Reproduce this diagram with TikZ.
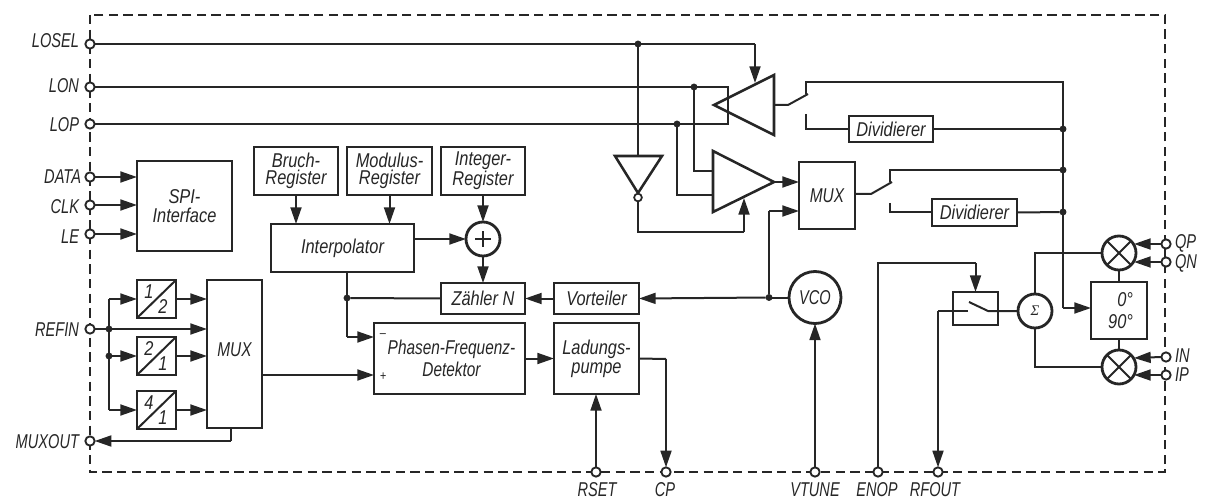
\documentclass[tikz,border=0pt]{standalone}
\usepackage{fontspec}
\setmainfont{Liberation Sans}[FakeStretch=0.82]
\newfontfamily\capf{Liberation Sans}[FakeStretch=0.73]
\newfontfamily\midf{Liberation Sans}[FakeStretch=0.77]
\newfontfamily\sigfont{Liberation Serif}
\usetikzlibrary{arrows.meta,calc}
\definecolor{ink}{HTML}{262626}
\tikzset{
  conn/.style={draw=ink,line width=1.5pt,line join=miter},
  arr/.style={conn,-{Triangle[length=12.5pt,width=8.2pt]}},
  boxnode/.style={draw=ink,line width=2.1pt,inner sep=0pt,outer sep=0pt,align=center,text=ink,
     font=\fontsize{15pt}{13.2pt}\selectfont\itshape},
  txt/.style={inner sep=0pt,outer sep=0pt,text=ink,align=center,font=\fontsize{15pt}{13.2pt}\selectfont\itshape},
  caplab/.style={txt,font=\capf\fontsize{15pt}{13.2pt}\selectfont\itshape},
  midlab/.style={txt,font=\midf\fontsize{15pt}{13.2pt}\selectfont\itshape},
  sml/.style={inner sep=0pt,outer sep=0pt,text=ink,font=\fontsize{10pt}{10pt}\selectfont\itshape},
  pinn/.style={circle,draw=ink,fill=white,line width=1.4pt,minimum size=7pt,inner sep=0pt,outer sep=0pt},
  dotn/.style={circle,fill=ink,minimum size=5.2pt,inner sep=0pt,outer sep=0pt},
  ringn/.style={circle,draw=ink,line width=2.1pt,inner sep=0pt,outer sep=0pt,text=ink,
     font=\fontsize{15pt}{13.2pt}\selectfont\itshape},
  shapeln/.style={draw=ink,line width=1.9pt,line join=miter},
  framen/.style={draw=ink,line width=2.2pt,dash pattern=on 7.1pt off 3.9pt}
}
\newcommand{\bx}[6]{\node[boxnode,minimum width={(#4-#2)*0.75pt},minimum height={(#5-#3)*0.75pt}] (#1) at ({(#2+#4)/2},{(#3+#5)/2}) {#6};}
\begin{document}
\begin{tikzpicture}[x=0.75pt,y=-0.75pt]
\useasboundingbox (0,0) rectangle (1210,499);
% frame
\draw[framen] (90,15) rectangle (1165,472);
% pins
\node[pinn] (pLOSEL) at (90,44) {};
\node[pinn] (pLON) at (90,87) {};
\node[pinn] (pLOP) at (90,124) {};
\node[pinn] (pDATA) at (90,177) {};
\node[pinn] (pCLK) at (90,205) {};
\node[pinn] (pLE) at (90,234) {};
\node[pinn] (pREFIN) at (90,329) {};
\node[pinn] (pMUXOUT) at (90,441) {};
\node[pinn] (pQP) at (1166,244) {};
\node[pinn] (pQN) at (1166,262) {};
\node[pinn] (pIN) at (1166,357) {};
\node[pinn] (pIP) at (1166,375) {};
\node[pinn] (pRSET) at (596,472) {};
\node[pinn] (pCP) at (666,472) {};
\node[pinn] (pVTUNE) at (815,472) {};
\node[pinn] (pENOP) at (878,472) {};
\node[pinn] (pRFOUT) at (938,472) {};
% pin labels
\node[caplab,anchor=east] (lLOSEL) at (79,41) {LOSEL};
\node[caplab,anchor=east] (lLON) at (79,86) {LON};
\node[caplab,anchor=east] (lLOP) at (79,125) {LOP};
\node[caplab,anchor=east] (lDATA) at (81,177) {DATA};
\node[caplab,anchor=east] (lCLK) at (79,207) {CLK};
\node[caplab,anchor=east] (lLE) at (79,237) {LE};
\node[caplab,anchor=east] (lREFIN) at (79,330) {REFIN};
\node[caplab,anchor=east] (lMUXOUT) at (79,442) {MUXOUT};
\node[caplab,anchor=west] (lQP) at (1175,243) {QP};
\node[caplab,anchor=west] (lQN) at (1175,263) {QN};
\node[caplab,anchor=west] (lIN) at (1175,356) {IN};
\node[caplab,anchor=west] (lIP) at (1175,375) {IP};
\node[caplab] (lRSET) at (597,489.5) {RSET};
\node[caplab] (lCP) at (665,489.5) {CP};
\node[caplab] (lVTUNE) at (815,489.5) {VTUNE};
\node[caplab] (lENOP) at (877,489.5) {ENOP};
\node[caplab] (lRFOUT) at (935,489.5) {RFOUT};
% boxes
\bx{spi}{137}{161}{232}{251}{SPI-\\[1.3pt]Interface}
\bx{bruch}{254}{147}{338}{195}{Bruch-\\Register}
\bx{modul}{347}{147}{432}{195}{Modulus-\\Register}
\bx{integ}{441}{147}{525}{195}{Integer-\\Register}
\bx{interp}{271}{224}{414}{272}{Interpolator}
\bx{zn}{441}{283}{525}{314}{Zähler N}
\bx{vort}{554}{283}{639}{314}{Vorteiler}
\bx{pfd}{374}{323}{525}{394}{\midf\itshape\hspace*{3pt}Phasen-Frequenz-\\[1.3pt]\midf\itshape\hspace*{3pt}Detektor}
\bx{lad}{554}{323}{639}{394}{Ladungs-\\[1.3pt]pumpe}
\bx{muxa}{207}{280}{262}{428}{}
\node[midlab] (tmuxa) at (234.5,350) {MUX};
\bx{muxb}{799}{162}{855}{229}{\midf\itshape MUX}
\bx{diva}{849}{116}{933}{142}{Dividierer}
\bx{divb}{932}{199}{1017}{226}{Dividierer}
\bx{dva}{137}{280}{176}{318}{}
\bx{dvb}{137}{337}{176}{375}{}
\bx{dvc}{137}{391}{176}{429}{}
\bx{sw}{953}{292}{998}{325}{}
\bx{phase}{1091}{282}{1147}{339}{}
\draw[conn] (dva.south west) -- (dva.north east);
\draw[conn] (dvb.south west) -- (dvb.north east);
\draw[conn] (dvc.south west) -- (dvc.north east);
\node[txt] (ta1) at (149,292) {1};
\node[txt] (ta2) at (163,307) {2};
\node[txt] (tb1) at (149,349) {2};
\node[txt] (tb2) at (163,364) {1};
\node[txt] (tc1) at (149,403) {4};
\node[txt] (tc2) at (163,418) {1};
\node[sml] (tminus) at (383,336) {\textendash};
\node[sml] (tplus) at (383,377) {+};
\node[txt,anchor=east] (tph0) at (1133,300) {0°};
\node[txt,anchor=east] (tph90) at (1133,322) {90°};
% rings
\node[ringn,minimum size=25.5pt] (plus) at (483,239) {};
\draw[conn] ($(plus)+(-8,0)$) -- ($(plus)+(8,0)$);
\draw[conn] ($(plus)+(0,-8)$) -- ($(plus)+(0,8)$);
\node[ringn,minimum size=39pt,font=\capf\fontsize{15pt}{13.2pt}\selectfont\itshape] (vco) at (815,297.5) {VCO};
\node[ringn,minimum size=25.5pt,font=\sigfont\fontsize{11pt}{11pt}\selectfont\itshape] (sig) at (1035,311) {Σ};
\node[ringn,minimum size=25.5pt] (mq) at (1119,253) {};
\node[ringn,minimum size=25.5pt] (mi) at (1119,367) {};
\draw[conn] (mq.45) -- (mq.225);
\draw[conn] (mq.135) -- (mq.315);
\draw[conn] (mi.45) -- (mi.225);
\draw[conn] (mi.135) -- (mi.315);
% amplifiers and inverter
\coordinate (ampAtip) at (714,105);
\coordinate (ampAtop) at (774,75);
\coordinate (ampAbot) at (774,135);
\draw[shapeln] (ampAtip) -- (ampAtop) -- (ampAbot) -- cycle;
\coordinate (ampBtip) at (774,182);
\coordinate (ampBtop) at (713,151);
\coordinate (ampBbot) at (713,212);
\draw[shapeln] (ampBtip) -- (ampBtop) -- (ampBbot) -- cycle;
\coordinate (invL) at (615,156);
\coordinate (invR) at (662,156);
\coordinate (invT) at (638,193);
\draw[shapeln] (invL) -- (invR) -- (invT) -- cycle;
\node[pinn,line width=1.3pt,minimum size=5.8pt] (bub) at (638,197.5) {};
% dots
\node[dotn] (dLO) at (638,44) {};
\node[dotn] (dLON) at (694,87) {};
\node[dotn] (dLOP) at (677,124) {};
\node[dotn] (dOa) at (1063,129) {};
\node[dotn] (dOb) at (1063,170) {};
\node[dotn] (dOc) at (1063,212) {};
\node[dotn] (dR) at (109,329) {};
\node[dotn] (dRb) at (109,356) {};
\node[dotn] (dN) at (347,298) {};
\node[dotn] (dV) at (769,297.5) {};
% LO inputs
\coordinate (loTurn) at (755,44);
\coordinate (loTip) at (755,83);
\draw[conn] (pLOSEL.east) -- (dLO) -- (loTurn);
\draw[arr] (loTurn) -- (loTip);
\coordinate (lonEnd) at (728,87);
\coordinate (lopEnd) at (728,124);
\draw[conn] (pLON.east) -- (dLON) -- (lonEnd) -- (lopEnd) -- (dLOP) -- (pLOP.east);
\draw[conn] (dLO) -- (invL -| dLO);
\draw[conn] (dLON) -- (dLON |- 0,171) -- (713,171);
\draw[conn] (dLOP) -- (dLOP |- 0,195) -- (713,195);
\coordinate (enTurnA) at (638,232);
\coordinate (enTurnB) at (744,232);
\coordinate (enTip) at (744,198);
\draw[conn] (bub.south) -- (enTurnA) -- (enTurnB);
\draw[arr] (enTurnB) -- (enTip);
% switch A
\coordinate (swAout) at (788,105);
\coordinate (swAarm) at (808,94);
\coordinate (swAup) at (806,94);
\coordinate (swAupb) at (806,82);
\coordinate (busTop) at (1063,82);
\coordinate (busEnd) at (1063,308);
\coordinate (swAlo) at (806,114);
\coordinate (swAlob) at (806,129);
\draw[conn] (ampAbot |- ampAtip) -- (swAout) -- (swAarm);
\draw[conn] (swAup) -- (swAupb) -- (busTop) -- (busEnd);
\draw[arr] (busEnd) -- (busEnd -| phase.west);
\draw[conn] (swAlo) -- (swAlob) -- (diva.west);
\draw[conn] (diva.east) -- (dOa);
% MUX B and switch B
\draw[arr] (ampBtip) -- (ampBtip -| muxb.west);
\coordinate (muxIn) at (769,211);
\draw[conn] (dV) -- (muxIn);
\draw[arr] (muxIn) -- (muxIn -| muxb.west);
\coordinate (swBout) at (871,194);
\coordinate (swBarm) at (892,182);
\coordinate (swBup) at (890,182);
\coordinate (swBupb) at (890,170);
\coordinate (swBlo) at (890,203);
\coordinate (swBlob) at (890,212);
\draw[conn] (swBout -| muxb.east) -- (swBout) -- (swBarm);
\draw[conn] (swBup) -- (swBupb) -- (dOb);
\draw[conn] (swBlo) -- (swBlob) -- (swBlob -| divb.west);
\draw[conn] (divb.east) -- (dOc);
% SPI
\draw[arr] (pDATA.east) -- (pDATA.east -| spi.west);
\draw[arr] (pCLK.east) -- (pCLK.east -| spi.west);
\draw[arr] (pLE.east) -- (pLE.east -| spi.west);
% reference
\draw[arr] (pREFIN.east) -- (dR) -- (pREFIN.east -| muxa.west);
\draw[conn] (dva.west -| dR) -- (dvc.west -| dR);
\draw[arr] (dva.west -| dR) -- (dva.west);
\draw[arr] (dRb) -- (dvb.west);
\draw[arr] (dvc.west -| dR) -- (dvc.west);
\draw[arr] (dva.east) -- (dva.east -| muxa.west);
\draw[arr] (dvb.east) -- (dvb.east -| muxa.west);
\draw[arr] (dvc.east) -- (dvc.east -| muxa.west);
\coordinate (mOutA) at (231,428);
\coordinate (mOutB) at (231,441);
\draw[conn] (mOutA) -- (mOutB);
\draw[arr] (mOutB) -- (pMUXOUT.east);
\coordinate (mToPfd) at (262,375);
\draw[arr] (mToPfd) -- (mToPfd -| pfd.west);
% registers
\draw[arr] (bruch.south) -- (bruch.south |- interp.north);
\draw[arr] (modul.south) -- (modul.south |- interp.north);
\draw[arr] (integ.south) -- (plus.north);
\draw[arr] (plus.south) -- (zn.north);
\draw[arr] (plus.west -| interp.east) -- (plus.west);
\coordinate (nTurn) at (347,337);
\draw[conn] (dN |- interp.south) -- (nTurn);
\draw[arr] (nTurn) -- (nTurn -| pfd.west);
\draw[conn] (dN) -- (zn.west);
\draw[arr] (vort.west) -- (zn.east);
\draw[conn] (vco.west) -- (dV);
\draw[arr] (dV) -- (vort.east);
\draw[arr] (pfd.east) -- (lad.west);
\coordinate (cpTurn) at (666,359);
\draw[conn] (lad.east) -- (cpTurn);
\draw[arr] (cpTurn) -- (pCP.north);
\draw[arr] (pRSET.north) -- (pRSET.north |- lad.south);
\draw[arr] (pVTUNE.north) -- (vco.south);
% right section
\draw[conn] (mq.south) -- (mq.south |- phase.north);
\draw[conn] (mi.north) -- (mi.north |- phase.south);
\draw[conn] (sig.north) -- (sig.north |- mq.west) -- (mq.west);
\draw[conn] (sig.south) -- (sig.south |- mi.west) -- (mi.west);
\coordinate (swCr) at (988,311);
\coordinate (swCarm) at (969,302);
\coordinate (swCl) at (968,311);
\coordinate (rfTurn) at (938,311);
\draw[conn] (sig.west) -- (swCr) -- (swCarm);
\draw[conn] (swCl) -- (rfTurn);
\draw[arr] (rfTurn) -- (pRFOUT.north);
\coordinate (enA) at (878,263);
\coordinate (enB) at (975.5,263);
\draw[conn] (pENOP.north) -- (enA) -- (enB);
\draw[arr] (enB) -- (sw.north);
\coordinate (qpT) at (1134,244);
\coordinate (qnT) at (1134,262);
\coordinate (inT) at (1134,358);
\coordinate (ipT) at (1134,375);
\draw[arr] (pQP.west) -- (qpT);
\draw[arr] (pQN.west) -- (qnT);
\draw[arr] (pIN.west) -- (inT);
\draw[arr] (pIP.west) -- (ipT);
\end{tikzpicture}
\end{document}
